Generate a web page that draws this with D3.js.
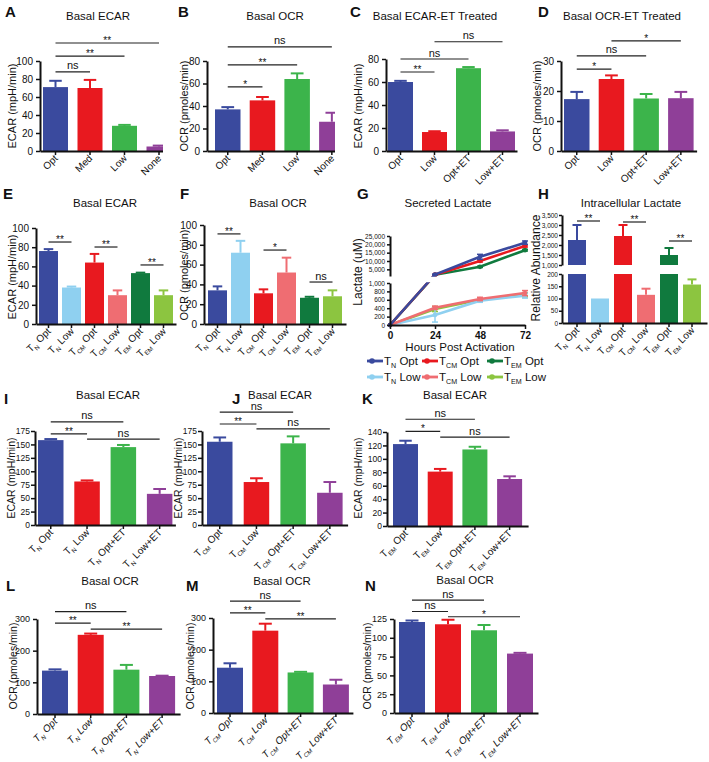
<!DOCTYPE html>
<html><head><meta charset="utf-8">
<script src="https://cdn.jsdelivr.net/npm/d3@7"></script>
<style>body{margin:0;background:#fff}svg{display:block}</style>
</head><body><svg id="c" width="709" height="762"></svg>
<script>
// ---------------- DATA ----------------
const abCats = ["Opt", "Med", "Low", "None"];
const aVals = [71, 70, 28, 5];
const aErr = [78, 79, 29, 6];
const bVals = [37, 45, 64, 26];
const bErr = [39, 48, 69, 34];
const cdCats = ["Opt", "Low", "Opt+ET", "Low+ET"];
const cVals = [60, 16.5, 72, 17];
const cErr = [61, 17.2, 73, 18];
const dVals = [17.3, 24, 17.5, 17.6];
const dErr = [19.7, 25.2, 19, 19.7];
const subsetCats = [["N", "Opt"], ["N", "Low"], ["CM", "Opt"], ["CM", "Low"], ["EM", "Opt"], ["EM", "Low"]];
const eVals = [76, 38, 64, 30, 53, 30];
const eErr = [78, 39, 73, 35, 53.5, 35];
const fVals = [34, 72, 31, 52, 26.5, 28];
const fErr = [38, 84, 35, 67, 27.5, 34];
const hVals = [2250, 100, 2450, 115, 1500, 157];
const hErr = [3000, 100, 3000, 140, 1850, 178];
const gHours = [0, 24, 48, 72];
const gNames = [["N", "Opt"], ["CM", "Opt"], ["EM", "Opt"], ["N", "Low"], ["CM", "Low"], ["EM", "Low"]];
const gNOpt = [0, 1900, 12500, 21000], gNOptErr = [0, 200, 1500, 1000];
const gCMOpt = [0, 1800, 10000, 19000], gCMOptErr = [0, 150, 600, 600];
const gEMOpt = [0, 1700, 6500, 16500], gEMOptErr = [0, 150, 400, 500];
const gNLow = [0, 240, 580, 700], gNLowErr = [0, 170, 40, 60];
const gCMLow = [0, 410, 620, 760], gCMLowErr = [0, 40, 40, 60];
const gEMLow = [0, 380, 600, 720], gEMLowErr = [0, 60, 30, 50];
const etCats = s => [[s, "Opt"], [s, "Low"], [s, "Opt+ET"], [s, "Low+ET"]];
const iVals = [158, 81, 145, 58], iErr = [160, 83, 149, 67];
const jVals = [155, 80, 152, 60], jErr = [163, 87, 165, 80];
const kVals = [122, 81, 114, 70], kErr = [127, 85, 118, 74];
const lVals = [137, 250, 140, 120], lErr = [141, 254, 155, 121];
const mVals = [143, 260, 128, 90], mErr = [157, 282, 130, 105];
const nVals = [121, 118, 110, 79], nErr = [123, 124, 117, 80];
// significance annotations: [from, to, level (data units), label]
const aSig = [[0, 1, 88, "ns"], [0, 2, 105.5, "**"], [0, 3, 120, "**"]];
const bSig = [[0, 1, 57, "*"], [0, 2, 76.5, "**"], [0, 3, 92.5, "ns"]];
const cSig = [[0, 1, 68.7, "**"], [0, 2, 80, "ns"], [1, 3, 95, "ns"]];
const dSig = [[0, 1, 27.3, "*"], [0, 2, 31.7, "ns"], [1, 3, 36.7, "*"]];
const eSig = [[0, 1, 85.4, "**"], [2, 3, 80.2, "**"], [4, 5, 61.5, "**"]];
const fSig = [[0, 1, 91, "**"], [2, 3, 74.7, "*"], [4, 5, 42.4, "ns"]];
const hSig = [[0, 1, 3200, "**"], [2, 3, 3150, "**"], [4, 5, 2200, "**"]];
const iSig = [[0, 1, 169.5, "**"], [0, 2, 192, "ns"], [1, 3, 160, "ns"]];
const jSig = [[0, 1, 188, "**"], [0, 2, 210, "ns"], [1, 3, 179, "ns"]];
const kSig = [[0, 1, 141, "*"], [0, 2, 159, "ns"], [1, 3, 132.5, "ns"]];
const lSig = [[0, 1, 287, "**"], [0, 2, 323, "ns"], [1, 3, 268, "**"]];
const mSig = [[0, 1, 316, "**"], [0, 2, 353, "ns"], [1, 3, 297, "**"]];
const nSig = [[0, 1, 135, "ns"], [0, 2, 150, "ns"], [1, 3, 128, "*"]];

// ---------------- STYLE ----------------
const FONT = '"Liberation Sans", Arial, Helvetica, sans-serif';
const COL = {blue: "#3a4a9e", red: "#e8191f", green: "#3cb44b", purple: "#8f3f98",
  lblue: "#8fd0f0", salmon: "#ef6d72", dgreen: "#107a3e", lgreen: "#8cc540"};
const four = [COL.blue, COL.red, COL.green, COL.purple];
const six = [COL.blue, COL.lblue, COL.red, COL.salmon, COL.dgreen, COL.lgreen];
const INK = "#111";

const svg = d3.select("#c").attr("font-family", FONT);
let clipId = 0;

function richLabel(sel, lab, fs) {
  if (typeof lab === "string") { sel.text(lab); return; }
  const d = fs * 0.3;
  sel.append("tspan").text("T");
  sel.append("tspan").attr("font-size", fs * 0.62).attr("dy", d).text(lab[0]);
  sel.append("tspan").attr("dy", -d).text(" " + lab[1]);
}

function styleAxis(a, fs) {
  a.attr("font-family", FONT).attr("font-size", fs);
  a.select(".domain").attr("stroke", INK).attr("stroke-width", 2);
  a.selectAll(".tick line").attr("stroke", INK).attr("stroke-width", 1.5);
  a.selectAll(".tick text").attr("fill", INK);
}

function headings(cfg) {
  svg.append("text").attr("x", cfg.letter[0]).attr("y", cfg.letter[1]).attr("font-weight", "bold")
    .attr("font-size", 15).attr("fill", INK).text(cfg.letter[2]);
  svg.append("text").attr("x", cfg.title[0]).attr("y", cfg.title[1]).attr("text-anchor", "middle")
    .attr("font-size", cfg.titleFs || 11.5).attr("fill", INK).text(cfg.title[2]);
  svg.append("text").attr("transform", `translate(${cfg.ytitle[0]},${cfg.ytitle[1]}) rotate(-90)`)
    .attr("text-anchor", "middle").attr("dy", "0.35em").attr("font-size", cfg.ytitle[3] || 11)
    .attr("fill", INK).text(cfg.ytitle[2]);
}

function bandScale(n, axisX, b0, step, w) {
  const p = 1 - w / step, q = (b0 - axisX) / step;
  const r1 = axisX + step * (n - p + 2 * q);
  return d3.scaleBand().domain(d3.range(n)).range([axisX, r1]).paddingInner(p).paddingOuter(q);
}

function xLabels(g, x, cats, yBot, fs, italic) {
  cats.forEach((c, i) => {
    const t = g.append("text")
      .attr("transform", `translate(${x(i) + x.bandwidth() / 2 + 3},${yBot + 8}) rotate(-45)`)
      .attr("text-anchor", "end").attr("font-size", fs).attr("fill", INK)
      .attr("font-style", italic ? "italic" : null);
    richLabel(t, c, fs);
  });
}

function sigMarks(g, x, y, sig) {
  const cx = i => x(i) + x.bandwidth() / 2;
  sig.forEach(s => {
    const yy = y(s[2]);
    g.append("line").attr("x1", cx(s[0])).attr("x2", cx(s[1])).attr("y1", yy).attr("y2", yy)
      .attr("stroke", "#222").attr("stroke-width", 1.2);
    g.append("text").attr("x", (cx(s[0]) + cx(s[1])) / 2).attr("y", s[3] === "ns" ? yy - 2.5 : yy + 1)
      .attr("text-anchor", "middle").attr("font-size", s[3] === "ns" ? 11 : 10).attr("fill", INK).text(s[3]);
  });
}

function errBars(g, x, ys, vals, errs, colors) {
  vals.forEach((v, i) => {
    if (errs[i] <= v) return;
    const cx = x(i) + x.bandwidth() / 2, cw = x.bandwidth() / 4;
    const y0 = ys(v, errs[i])[0], y1 = ys(v, errs[i])[1];
    g.append("line").attr("x1", cx).attr("x2", cx).attr("y1", y0).attr("y2", y1)
      .attr("stroke", colors[i]).attr("stroke-width", 2);
    g.append("line").attr("x1", cx - cw).attr("x2", cx + cw).attr("y1", y1).attr("y2", y1)
      .attr("stroke", colors[i]).attr("stroke-width", 2);
  });
}

function barPanel(cfg) {
  headings(cfg);
  const g = svg.append("g");
  const n = cfg.cats.length;
  const x = bandScale(n, cfg.axisX, cfg.b0, cfg.step, cfg.w);
  const y = d3.scaleLinear().domain([0, cfg.max]).range([cfg.yBot, cfg.yTop]);
  let body = g;
  if (cfg.clipX) {
    const id = "clp" + (clipId++);
    svg.append("clipPath").attr("id", id).append("rect")
      .attr("x", 0).attr("y", 0).attr("width", cfg.clipX).attr("height", 762);
    body = g.append("g").attr("clip-path", `url(#${id})`);
  }
  body.selectAll("rect.bar").data(cfg.vals).join("rect").attr("class", "bar")
    .attr("x", (d, i) => x(i)).attr("width", x.bandwidth())
    .attr("y", d => y(d)).attr("height", d => y(0) - y(d))
    .attr("fill", (d, i) => cfg.colors[i]);
  errBars(body, x, (v, e) => [y(v), y(e)], cfg.vals, cfg.errs, cfg.colors);
  const xa = body.append("g").attr("transform", `translate(0,${cfg.yBot})`)
    .call(d3.axisBottom(x).tickSize(4).tickSizeOuter(0).tickFormat(""));
  styleAxis(xa, 10);
  const ya = g.append("g").attr("transform", `translate(${cfg.axisX},0)`)
    .call(d3.axisLeft(y).tickValues(cfg.ticks).tickSize(4).tickSizeOuter(0));
  styleAxis(ya, cfg.tickFs || 10);
  if (cfg.tickDx) ya.selectAll(".tick text").attr("x", cfg.tickDx);
  xLabels(g, x, cfg.cats, cfg.yBot, cfg.labFs || 10, cfg.italic);
  sigMarks(g, x, y, cfg.sig);
}

// ---------------- ROW 1 ----------------
barPanel({cats: abCats, vals: aVals, errs: aErr, colors: four, max: 100, ticks: [0, 20, 40, 60, 80, 100],
  axisX: 40, yTop: 61, yBot: 151, b0: 43, step: 34.5, w: 25, clipX: 163, sig: aSig,
  letter: [5, 17, "A"], title: [98, 20, "Basal ECAR"], ytitle: [12, 106, "ECAR (mpH/min)"]});
barPanel({cats: abCats, vals: bVals, errs: bErr, colors: four, max: 80, ticks: [0, 20, 40, 60, 80],
  axisX: 207, yTop: 61, yBot: 151, b0: 215, step: 34.7, w: 25.5, clipX: 335, sig: bSig,
  letter: [178, 17, "B"], title: [275, 20, "Basal OCR"], ytitle: [184, 106, "OCR (pmoles/min)"]});
barPanel({cats: cdCats, vals: cVals, errs: cErr, colors: four, max: 80, ticks: [0, 20, 40, 60, 80],
  axisX: 386, yTop: 59, yBot: 151, b0: 388, step: 34, w: 25, sig: cSig,
  letter: [350, 17, "C"], title: [435, 20, "Basal ECAR-ET Treated"], ytitle: [358, 106, "ECAR (mpH/min)"]});
barPanel({cats: cdCats, vals: dVals, errs: dErr, colors: four, max: 30, ticks: [0, 10, 20, 30],
  axisX: 561, yTop: 61, yBot: 151, b0: 564, step: 34.7, w: 25.5, sig: dSig,
  letter: [538, 17, "D"], title: [622, 20, "Basal OCR-ET Treated"], ytitle: [537, 106, "OCR (pmoles/min)"]});

// ---------------- ROW 2 ----------------
barPanel({cats: subsetCats, vals: eVals, errs: eErr, colors: six, max: 100, ticks: [0, 20, 40, 60, 80, 100],
  axisX: 36, yTop: 228, yBot: 324, b0: 39, step: 23, w: 19, sig: eSig,
  letter: [3, 199, "E"], title: [105, 207, "Basal ECAR"], ytitle: [12, 277, "ECAR (mpH/min)"]});
barPanel({cats: subsetCats, vals: fVals, errs: fErr, colors: six, max: 100, ticks: [0, 20, 40, 60, 80, 100],
  axisX: 204, yTop: 225, yBot: 324, b0: 208, step: 23, w: 19, sig: fSig,
  letter: [180, 199, "F"], title: [278, 207, "Basal OCR"], ytitle: [184, 275, "OCR (pmoles/min)"]});

// ---- G: secreted lactate (broken y axis) ----
(function () {
  headings({letter: [357, 199, "G"], title: [448, 207, "Secreted Lactate"], ytitle: [358, 272, "Lactate (uM)", 12]});
  const g = svg.append("g");
  const gx = d3.scaleLinear([0, 72], [390, 525]);
  const gLow = d3.scaleLinear([0, 1000], [325, 283]);
  const gUp = d3.scaleLinear([1000, 25000], [276, 236]);
  const gy = v => v <= 1000 ? gLow(v) : gUp(v);
  const series = [
    {name: gNames[5], vals: gEMLow, err: gEMLowErr, color: COL.lgreen},
    {name: gNames[3], vals: gNLow, err: gNLowErr, color: COL.lblue},
    {name: gNames[4], vals: gCMLow, err: gCMLowErr, color: COL.salmon},
    {name: gNames[2], vals: gEMOpt, err: gEMOptErr, color: COL.dgreen},
    {name: gNames[1], vals: gCMOpt, err: gCMOptErr, color: COL.red},
    {name: gNames[0], vals: gNOpt, err: gNOptErr, color: COL.blue}];
  const line = d3.line().x(d => gx(d[0])).y(d => gy(d[1]));
  series.forEach(s => {
    const pts = gHours.map((h, i) => [h, s.vals[i], s.err[i]]);
    g.append("path").attr("d", line(pts)).attr("fill", "none").attr("stroke", s.color).attr("stroke-width", 2.6);
    pts.forEach(p => {
      if (p[2] > 0) {
        const y0 = gy(p[1] - p[2]), y1 = gy(p[1] + p[2]);
        g.append("line").attr("x1", gx(p[0])).attr("x2", gx(p[0])).attr("y1", y0).attr("y2", y1)
          .attr("stroke", s.color).attr("stroke-width", 1.5);
        [y0, y1].forEach(yy => g.append("line").attr("x1", gx(p[0]) - 3).attr("x2", gx(p[0]) + 3)
          .attr("y1", yy).attr("y2", yy).attr("stroke", s.color).attr("stroke-width", 1.5));
      }
      g.append("circle").attr("cx", gx(p[0])).attr("cy", gy(p[1])).attr("r", 2.3).attr("fill", s.color);
    });
  });
  // break gap
  g.append("rect").attr("x", gx(0) + 1).attr("y", gUp(1000) + 0.8).attr("width", 140)
    .attr("height", gLow(1000) - gUp(1000) - 1.6).attr("fill", "#fff");
  const a1 = g.append("g").attr("transform", "translate(390,0)")
    .call(d3.axisLeft(gLow).tickValues([0, 200, 400, 600, 800, 1000]).tickSize(3).tickSizeOuter(0));
  const a2 = g.append("g").attr("transform", "translate(390,0)")
    .call(d3.axisLeft(gUp).tickValues([5000, 10000, 15000, 20000, 25000]).tickSize(3).tickSizeOuter(0));
  [a1, a2].forEach(a => { styleAxis(a, 6.5); a.selectAll(".tick text").attr("x", -5); });
  const ax = g.append("g").attr("transform", "translate(0,325)")
    .call(d3.axisBottom(gx).tickValues(gHours).tickSize(4).tickSizeOuter(0));
  styleAxis(ax, 10);
  ax.selectAll(".tick text").attr("font-weight", "bold");
  g.append("text").attr("x", 460).attr("y", 351).attr("text-anchor", "middle").attr("font-size", 11.5)
    .attr("fill", INK).text("Hours Post Activation");
  // legend
  const legend = [
    {name: gNames[0], color: COL.blue, x: 367, y: 361}, {name: gNames[1], color: COL.red, x: 422, y: 361},
    {name: gNames[2], color: COL.dgreen, x: 487, y: 361}, {name: gNames[3], color: COL.lblue, x: 367, y: 377},
    {name: gNames[4], color: COL.salmon, x: 422, y: 377}, {name: gNames[5], color: COL.lgreen, x: 487, y: 377}];
  legend.forEach(L => {
    g.append("line").attr("x1", L.x).attr("x2", L.x + 16).attr("y1", L.y).attr("y2", L.y)
      .attr("stroke", L.color).attr("stroke-width", 2.8);
    g.append("circle").attr("cx", L.x + 5).attr("cy", L.y).attr("r", 2.8).attr("fill", L.color);
    const t = g.append("text").attr("x", L.x + 17).attr("y", L.y + 4).attr("font-size", 11.5).attr("fill", INK);
    richLabel(t, L.name, 11.5);
  });
})();

// ---- H: intracellular lactate (broken y axis) ----
(function () {
  headings({letter: [538, 199, "H"], title: [631, 207, "Intracellular Lactate"], ytitle: [536, 268, "Relative Abundance", 12]});
  const g = svg.append("g");
  const x = bandScale(6, 562, 568, 23, 18);
  const yLow = d3.scaleLinear([0, 200], [323, 274]);
  const yUp = d3.scaleLinear([1000, 3500], [265, 215]);
  g.selectAll("rect.lo").data(hVals).join("rect").attr("class", "lo")
    .attr("x", (d, i) => x(i)).attr("width", x.bandwidth())
    .attr("y", d => yLow(Math.min(d, 200))).attr("height", d => yLow(0) - yLow(Math.min(d, 200)))
    .attr("fill", (d, i) => six[i]);
  g.selectAll("rect.hi").data(hVals.map((v, i) => [v, i]).filter(d => d[0] > 1000)).join("rect").attr("class", "hi")
    .attr("x", d => x(d[1])).attr("width", x.bandwidth())
    .attr("y", d => yUp(d[0])).attr("height", d => yUp(1000) - yUp(d[0]))
    .attr("fill", d => six[d[1]]);
  errBars(g, x, (v, e) => e > 1000 ? [yUp(Math.max(v, 1000)), yUp(e)] : [yLow(v), yLow(e)], hVals, hErr, six);
  const a1 = g.append("g").attr("transform", "translate(562,0)")
    .call(d3.axisLeft(yLow).tickValues([0, 50, 100, 150, 200]).tickSize(3).tickSizeOuter(0));
  const a2 = g.append("g").attr("transform", "translate(562,0)")
    .call(d3.axisLeft(yUp).tickValues([1000, 1500, 2000, 2500, 3000, 3500]).tickSize(3).tickSizeOuter(0));
  [a1, a2].forEach(a => { styleAxis(a, 6.5); a.selectAll(".tick text").attr("x", -4); });
  const ax = g.append("g").attr("transform", "translate(0,323)")
    .call(d3.axisBottom(x).tickSize(4).tickSizeOuter(0).tickFormat(""));
  styleAxis(ax, 10);
  xLabels(g, x, subsetCats, 323, 10, false);
  sigMarks(g, x, yUp, hSig);
})();

// ---------------- ROW 3 ----------------
barPanel({cats: etCats("N"), vals: iVals, errs: iErr, colors: four, max: 175, ticks: [0, 25, 50, 75, 100, 125, 150, 175],
  axisX: 35, yTop: 431, yBot: 525, b0: 38, step: 36.3, w: 25.5, sig: iSig, tickFs: 8.5, tickDx: -5,
  letter: [4, 404, "I"], title: [108, 399, "Basal ECAR"], ytitle: [11, 478, "ECAR (mpH/min)", 10.5]});
barPanel({cats: etCats("CM"), vals: jVals, errs: jErr, colors: four, max: 175, ticks: [0, 25, 50, 75, 100, 125, 150, 175],
  axisX: 202, yTop: 431, yBot: 525, b0: 207, step: 36.7, w: 25.5, sig: jSig, tickFs: 8.5, tickDx: -5,
  letter: [232, 404, "J"], title: [280, 399, "Basal ECAR"], ytitle: [178, 478, "ECAR (mpH/min)", 10.5]});
barPanel({cats: etCats("EM"), vals: kVals, errs: kErr, colors: four, max: 140, ticks: [0, 20, 40, 60, 80, 100, 120, 140],
  axisX: 387, yTop: 432, yBot: 526, b0: 393, step: 34.7, w: 25, sig: kSig, tickFs: 8.5, tickDx: -5,
  letter: [362, 404, "K"], title: [455, 399, "Basal ECAR"], ytitle: [358, 478, "ECAR (mpH/min)", 10.5]});

// ---------------- ROW 4 ----------------
barPanel({cats: etCats("N"), vals: lVals, errs: lErr, colors: four, max: 300, ticks: [0, 100, 200, 300],
  axisX: 37, yTop: 619, yBot: 714, b0: 42, step: 35.7, w: 26, sig: lSig, tickFs: 9, italic: true,
  letter: [6, 591, "L"], title: [110, 585, "Basal OCR"], ytitle: [13, 666, "OCR (pmoles/min)", 10.5]});
barPanel({cats: etCats("CM"), vals: mVals, errs: mErr, colors: four, max: 300, ticks: [0, 100, 200, 300],
  axisX: 213, yTop: 618, yBot: 713, b0: 217, step: 35.3, w: 26, sig: mSig, tickFs: 9, italic: true,
  letter: [186, 591, "M"], title: [282, 585, "Basal OCR"], ytitle: [190, 666, "OCR (pmoles/min)", 10.5]});
barPanel({cats: etCats("EM"), vals: nVals, errs: nErr, colors: four, max: 125, ticks: [0, 25, 50, 75, 100, 125],
  axisX: 394, yTop: 619, yBot: 713, b0: 399, step: 36, w: 26, sig: nSig, tickFs: 9, italic: true,
  letter: [365, 591, "N"], title: [465, 584, "Basal OCR"], ytitle: [367, 666, "OCR (pmoles/min)", 10.5]});
</script>
</body></html>
